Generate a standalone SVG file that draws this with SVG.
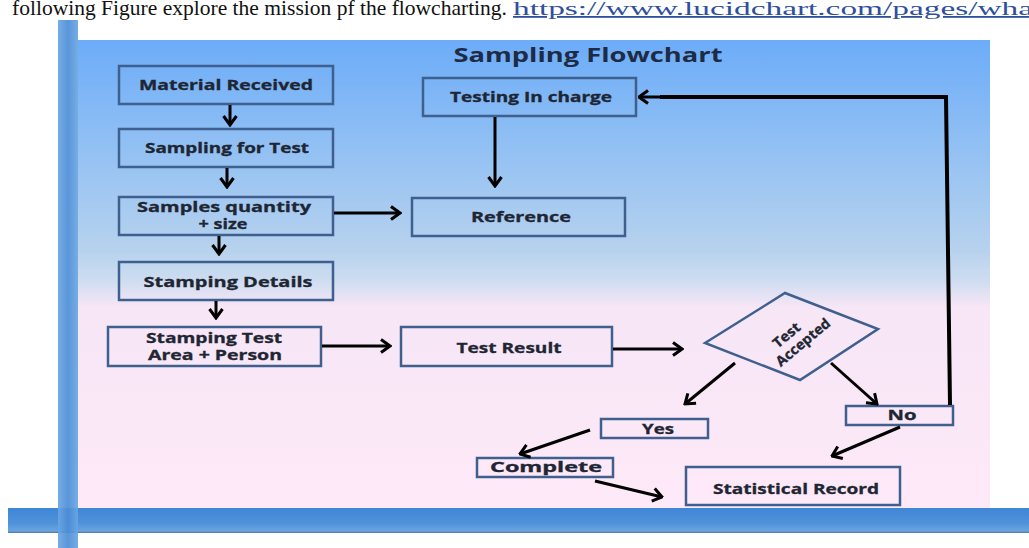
<svg xmlns="http://www.w3.org/2000/svg" width="1029" height="548" viewBox="0 0 1029 548">
  <defs>
    <linearGradient id="panelFill" x1="0" y1="40" x2="0" y2="508" gradientUnits="userSpaceOnUse">
      <stop offset="0" stop-color="#6CACF8"/>
      <stop offset="0.25" stop-color="#95C2F3"/>
      <stop offset="0.45" stop-color="#B7D2EE"/>
      <stop offset="0.51" stop-color="#CCDCF0"/>
      <stop offset="0.57" stop-color="#F6E6F6"/>
      <stop offset="1" stop-color="#FEE9F8"/>
    </linearGradient>
    <linearGradient id="barV" x1="0" y1="0" x2="1" y2="0">
      <stop offset="0" stop-color="#6AA6E2"/>
      <stop offset="0.5" stop-color="#4B8CD6"/>
      <stop offset="1" stop-color="#6AA6E2"/>
    </linearGradient>
    <linearGradient id="barH" x1="0" y1="0" x2="0" y2="1">
      <stop offset="0" stop-color="#3F86D6"/>
      <stop offset="0.6" stop-color="#4F92DA"/>
      <stop offset="0.92" stop-color="#6AA4DF"/>
      <stop offset="1" stop-color="#4C74A6"/>
    </linearGradient>
    <marker id="head" viewBox="0 0 12 16" refX="10.5" refY="8" markerWidth="12" markerHeight="16" markerUnits="userSpaceOnUse" orient="auto">
      <path d="M1.5,1.5 L10.5,8 L1.5,14.5" fill="none" stroke="#000" stroke-width="3"/>
    </marker>
    <style>
      .box { fill: none; stroke: #3F5F8E; stroke-width: 2.5; }
      .lbl { font-family: "Open Sans", "Liberation Sans", sans-serif; font-weight: bold; font-size: 14px; fill: #1E2633; text-anchor: middle; stroke: #1E2633; stroke-width: 0.3; }
      .title { font-family: "Open Sans", "Liberation Sans", sans-serif; font-weight: bold; font-size: 19px; fill: #1E2B44; text-anchor: middle; }
      .link { stroke: #000; stroke-width: 3; fill: none; marker-end: url(#head); }
      .plain { stroke: #000; stroke-width: 4; fill: none; }
      .body { font-family: "Liberation Serif", serif; font-size: 22px; fill: #111; }
      .url { font-family: "Liberation Serif", serif; font-size: 18px; fill: #2F4F9E; text-decoration: underline; }
    </style>
  </defs>

  <rect width="1029" height="548" fill="#FFFFFF"/>

  <!-- running text above the figure -->
  <text class="body" x="12" y="15" textLength="495" lengthAdjust="spacingAndGlyphs">following Figure explore the mission pf the flowcharting.</text>
  <text class="url" x="513" y="15" textLength="520" lengthAdjust="spacingAndGlyphs">https://www.lucidchart.com/pages/wha</text>

  <!-- page frame bars and chart panel -->
  <rect x="78" y="40" width="912" height="468" fill="url(#panelFill)"/>
  <rect x="8" y="508" width="1021" height="25" fill="url(#barH)"/>
  <rect x="58" y="20" width="20" height="528" fill="url(#barV)" opacity="0.92"/>

  <text class="title" x="588" y="62" textLength="269" lengthAdjust="spacingAndGlyphs">Sampling Flowchart</text>

  <g id="material-received">
    <rect class="box" x="119" y="66" width="214" height="38"/>
    <text class="lbl" x="226" y="90" textLength="174" lengthAdjust="spacingAndGlyphs">Material Received</text>
  </g>
  <g id="sampling-for-test">
    <rect class="box" x="119" y="129" width="214" height="38"/>
    <text class="lbl" x="227" y="153" textLength="164" lengthAdjust="spacingAndGlyphs">Sampling for Test</text>
  </g>
  <g id="samples-quantity">
    <rect class="box" x="119" y="197" width="214" height="38"/>
    <text class="lbl" x="224" y="212" font-size="12" textLength="174" lengthAdjust="spacingAndGlyphs">Samples  quantity</text>
    <text class="lbl" x="223" y="229" font-size="12" textLength="49" lengthAdjust="spacingAndGlyphs">+ size</text>
  </g>
  <g id="stamping-details">
    <rect class="box" x="119" y="262" width="214" height="38"/>
    <text class="lbl" x="228" y="287" textLength="169" lengthAdjust="spacingAndGlyphs">Stamping  Details</text>
  </g>
  <g id="stamping-test">
    <rect class="box" x="108" y="327" width="213" height="39"/>
    <text class="lbl" x="214" y="342.5" font-size="12" textLength="136" lengthAdjust="spacingAndGlyphs">Stamping Test</text>
    <text class="lbl" x="215" y="359.5" font-size="12" textLength="134" lengthAdjust="spacingAndGlyphs">Area + Person</text>
  </g>
  <g id="testing-in-charge">
    <rect class="box" x="423" y="78" width="213" height="38"/>
    <text class="lbl" x="531" y="102" textLength="162" lengthAdjust="spacingAndGlyphs">Testing In charge</text>
  </g>
  <g id="reference">
    <rect class="box" x="412" y="198" width="213" height="38"/>
    <text class="lbl" x="521" y="222" textLength="100" lengthAdjust="spacingAndGlyphs">Reference</text>
  </g>
  <g id="test-result">
    <rect class="box" x="401" y="327" width="211" height="39"/>
    <text class="lbl" x="509" y="353" textLength="105" lengthAdjust="spacingAndGlyphs">Test Result</text>
  </g>
  <g id="test-accepted">
    <polygon class="box" points="705,343 785,293 878,329 800,380"/>
    <g transform="translate(795,339) rotate(-40)">
      <text class="lbl" x="-4" y="-3.5" font-size="14" textLength="31" lengthAdjust="spacingAndGlyphs">Test</text>
      <text class="lbl" x="4" y="12.5" font-size="14" textLength="66" lengthAdjust="spacingAndGlyphs">Accepted</text>
    </g>
  </g>
  <g id="yes">
    <rect class="box" x="601" y="419" width="107" height="19"/>
    <text class="lbl" x="658" y="434" textLength="32" lengthAdjust="spacingAndGlyphs">Yes</text>
  </g>
  <g id="no">
    <rect class="box" x="846" y="406" width="107" height="19"/>
    <text class="lbl" x="902" y="420" textLength="29" lengthAdjust="spacingAndGlyphs">No</text>
  </g>
  <g id="complete">
    <rect class="box" x="477" y="458" width="136" height="19"/>
    <text class="lbl" x="546" y="472" textLength="112" lengthAdjust="spacingAndGlyphs">Complete</text>
  </g>
  <g id="statistical-record">
    <rect class="box" x="686" y="467" width="214" height="38"/>
    <text class="lbl" x="796" y="494" textLength="166" lengthAdjust="spacingAndGlyphs">Statistical Record</text>
  </g>

  <g id="connectors">
    <line class="link" x1="230" y1="105" x2="230" y2="125"/>
    <line class="link" x1="227" y1="168" x2="227" y2="187"/>
    <line class="link" x1="219" y1="236" x2="219" y2="254"/>
    <line class="link" x1="216" y1="301" x2="216" y2="318"/>
    <line class="link" x1="334" y1="213" x2="400" y2="213"/>
    <line class="link" x1="495" y1="117" x2="495" y2="186"/>
    <line class="link" x1="322" y1="346" x2="390" y2="346"/>
    <line class="link" x1="613" y1="349" x2="682" y2="349"/>
    <line class="link" x1="735" y1="363" x2="685" y2="404"/>
    <line class="link" x1="831" y1="363" x2="877" y2="404"/>
    <line class="link" x1="590" y1="430" x2="520" y2="454"/>
    <line class="link" x1="595" y1="481" x2="662" y2="497"/>
    <line class="link" x1="900" y1="427" x2="832" y2="456"/>
    <!-- No branch loops back up to Testing In charge -->
    <polyline class="plain" points="950,405 946,97 660,97"/>
    <line class="link" x1="662" y1="97" x2="639" y2="97"/>
  </g>
</svg>
